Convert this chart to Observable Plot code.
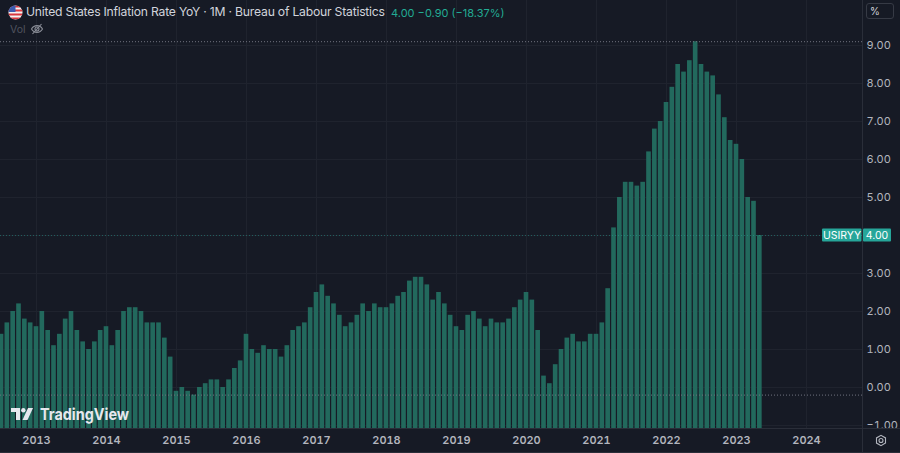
<!DOCTYPE html>
<html>
<head>
<meta charset="utf-8">
<script src="https://cdn.jsdelivr.net/npm/d3@7"></script>
<script src="https://cdn.jsdelivr.net/npm/@observablehq/plot@0.6"></script>
<style>
  html, body { margin: 0; padding: 0; background: #161a25; }
  #wrap { position: relative; width: 900px; height: 453px; overflow: hidden; font-family: Inter, "Noto Sans", sans-serif; }
  #hdr { position: absolute; left: 0; top: 0; width: 900px; height: 40px; pointer-events: none; }
  .title { position: absolute; left: 26px; top: 4px; font-size: 12.2px; letter-spacing: -0.22px; color: #d1d4dc; white-space: nowrap; }
  .vals { position: absolute; left: 391px; top: 6px; font-size: 11px; color: #22ab94; white-space: nowrap; }
  .vol { position: absolute; left: 10px; top: 23px; font-size: 10.5px; color: #50535e; }
  .pct { position: absolute; left: 866px; top: 3px; width: 28px; height: 16px; border: 1px solid #363a45; border-radius: 3px; font-size: 10px; color: #d1d4dc; box-sizing: border-box; padding-left: 3px; line-height: 15px; }
</style>
</head>
<body>
<div id="wrap">
  <div id="chart"></div>
  <div id="hdr">
    <svg style="position:absolute;left:8px;top:5px" width="15" height="15" viewBox="0 0 15 15">
      <defs><clipPath id="fc"><circle cx="7.5" cy="7.5" r="7"/></clipPath></defs>
      <g clip-path="url(#fc)">
        <rect x="0" y="0" width="15" height="15" fill="#f3f3f3"/>
        <rect x="0" y="0.5" width="15" height="2" fill="#d9363e"/>
        <rect x="0" y="4.5" width="15" height="2" fill="#d9363e"/>
        <rect x="0" y="8.5" width="15" height="2" fill="#d9363e"/>
        <rect x="0" y="12.5" width="15" height="2" fill="#d9363e"/>
        <rect x="0" y="0" width="7.5" height="7" fill="#3c5bb0"/>
      </g>
    </svg>
    <div class="title">United States Inflation Rate YoY · 1M · Bureau of Labour Statistics</div>
    <div class="vals">4.00 −0.90 (−18.37%)</div>
    <div class="vol">Vol</div>
    <svg style="position:absolute;left:30px;top:23px" width="14" height="12" viewBox="0 0 14 12">
      <path d="M1.5 6 C4 1.5 10 1.5 12.5 6 C10 10.5 4 10.5 1.5 6 Z" fill="none" stroke="#8a8d97" stroke-width="1.1"/>
      <circle cx="7" cy="6" r="2" fill="none" stroke="#8a8d97" stroke-width="1.1"/>
      <line x1="2.5" y1="11" x2="11.5" y2="1" stroke="#8a8d97" stroke-width="1.1"/>
    </svg>
    <div class="pct">%</div>
  </div>
</div>
<script>
// ---- data ----
const startYear = 2012;
const startMonth = 7; // July 2012
const values = [
  1.4, 1.7, 2.0, 2.2, 1.8, 1.7,                               // 2012 Jul-Dec
  1.6, 2.0, 1.5, 1.1, 1.4, 1.8, 2.0, 1.5, 1.2, 1.0, 1.2, 1.5,   // 2013
  1.6, 1.1, 1.5, 2.0, 2.1, 2.1, 2.0, 1.7, 1.7, 1.7, 1.3, 0.8,   // 2014
  -0.1, 0.0, -0.1, -0.2, 0.0, 0.1, 0.2, 0.2, 0.0, 0.2, 0.5, 0.7,// 2015
  1.4, 1.0, 0.9, 1.1, 1.0, 1.0, 0.8, 1.1, 1.5, 1.6, 1.7, 2.1,   // 2016
  2.5, 2.7, 2.4, 2.2, 1.9, 1.6, 1.7, 1.9, 2.2, 2.0, 2.2, 2.1,   // 2017
  2.1, 2.2, 2.4, 2.5, 2.8, 2.9, 2.9, 2.7, 2.3, 2.5, 2.2, 1.9,   // 2018
  1.6, 1.5, 1.9, 2.0, 1.8, 1.6, 1.8, 1.7, 1.7, 1.8, 2.1, 2.3,   // 2019
  2.5, 2.3, 1.5, 0.3, 0.1, 0.6, 1.0, 1.3, 1.4, 1.2, 1.2, 1.4,   // 2020
  1.4, 1.7, 2.6, 4.2, 5.0, 5.4, 5.4, 5.3, 5.4, 6.2, 6.8, 7.0,   // 2021
  7.5, 7.9, 8.5, 8.3, 8.6, 9.1, 8.5, 8.3, 8.2, 7.7, 7.1, 6.5,   // 2022
  6.4, 6.0, 5.0, 4.9, 4.0                                       // 2023 Jan-May
];
const yearTicks = [2013, 2014, 2015, 2016, 2017, 2018, 2019, 2020, 2021, 2022, 2023, 2024];
const priceTicks = [-1, 0, 1, 2, 3, 4, 5, 6, 7, 8, 9];
const highValue = 9.1;
const lowValue = -0.2;
const lastValue = 4.0;
const seriesLabel = "USIRYY";

// ---- table built from arrays: month index relative to Jan 2013 ----
const rows = values.map((v, i) => ({
  m: (startYear - 2013) * 12 + (startMonth - 1) + i,
  v
}));
const tickMonths = yearTicks.map(y => (y - 2013) * 12);
const axisPriceTicks = priceTicks.filter(t => t !== lastValue); // covered by the last-value label

const W = 900, H = 453, mR = 38, mB = 25;
const pxPerMonth = 70 / 12;
const x0 = -36 / pxPerMonth, x1 = (W - mR - 36) / pxPerMonth;
const yBottom = (387 - (H - mB)) / 38, yTop = 387 / 38;

const barColor = "#22695d";
const gridColor = "#1f232e";

const plot = Plot.plot({
  width: W, height: H,
  marginTop: 0, marginLeft: 0, marginRight: mR, marginBottom: mB,
  style: { background: "#161a25", color: "#b2b5be", fontFamily: "Inter, 'Noto Sans', sans-serif", fontSize: "11px", overflow: "visible" },
  x: { type: "linear", domain: [x0, x1] },
  y: { domain: [yBottom, yTop] },
  marks: [
    Plot.gridX(tickMonths, { stroke: gridColor, strokeOpacity: 1 }),
    Plot.gridY(priceTicks, { stroke: gridColor, strokeOpacity: 1 }),
    Plot.rect(rows, {
      x1: d => d.m - 0.5, x2: d => d.m + 0.5,
      y1: yBottom, y2: "v",
      fill: barColor, insetLeft: 0.6, insetRight: 0.6
    }),
    Plot.ruleY([highValue, lowValue], { stroke: "#70737e", strokeDasharray: "1,2", strokeWidth: 1 }),
    Plot.ruleY([lastValue], { stroke: "#26a69a", strokeOpacity: 0.45, strokeDasharray: "1,2", strokeWidth: 1 }),
    Plot.axisX(tickMonths, {
      anchor: "bottom", tickSize: 0, tickPadding: 8,
      tickFormat: (d, i) => String(yearTicks[i]), fontWeight: 600, fill: "#b2b5be", label: null
    }),
    Plot.axisY(axisPriceTicks, {
      anchor: "right", tickSize: 0, tickPadding: 4,
      tickFormat: d3.format(".2f"), fill: "#b2b5be", label: null, textAnchor: "start"
    })
  ]
});

document.getElementById("chart").appendChild(plot);

// ---- decorations positioned with the plot's own scales ----
const svg = d3.select(plot);
const sx = plot.scale("x"), sy = plot.scale("y");
const xr = sx.apply(x1);           // right edge of pane
const yb = sy.apply(yBottom);      // bottom edge of pane
const yl = sy.apply(lastValue);

// borders
svg.append("line").attr("x1", xr + 0.5).attr("x2", xr + 0.5).attr("y1", 0).attr("y2", H)
  .attr("stroke", "#2a2e39");
svg.append("line").attr("x1", 0).attr("x2", W).attr("y1", yb + 0.5).attr("y2", yb + 0.5)
  .attr("stroke", "#2a2e39");
svg.append("line").attr("x1", 0).attr("x2", W).attr("y1", H - 0.5).attr("y2", H - 0.5)
  .attr("stroke", "#2a2e39");

// last value labels
const lab = svg.append("g").attr("font-size", 10.5).attr("fill", "#ffffff");
lab.append("rect").attr("x", xr - 40).attr("y", yl - 6.5).attr("width", 39.5).attr("height", 13)
  .attr("fill", "#26a69a").attr("rx", 1);
lab.append("text").attr("x", xr - 20).attr("y", yl).attr("dy", "0.36em").attr("text-anchor", "middle")
  .attr("fill", "#ffffff").text(seriesLabel);
lab.append("rect").attr("x", xr + 1).attr("y", yl - 6.5).attr("width", 28).attr("height", 13)
  .attr("fill", "#26a69a").attr("rx", 1);
lab.append("text").attr("x", xr + 15).attr("y", yl).attr("dy", "0.36em").attr("text-anchor", "middle")
  .attr("fill", "#ffffff").text(d3.format(".2f")(lastValue));

// gear icon
const gear = svg.append("g").attr("transform", `translate(${xr + 19},${H - 12.5})`)
  .attr("fill", "none").attr("stroke", "#b2b5be").attr("stroke-width", 1.1);
gear.append("path").attr("d", d3.range(6).map(k => {
  const a = Math.PI / 3 * k + Math.PI / 6;
  return (k ? "L" : "M") + (5.2 * Math.cos(a)).toFixed(2) + "," + (5.2 * Math.sin(a)).toFixed(2);
}).join("") + "Z");
gear.append("circle").attr("r", 2);

// TradingView watermark
const wm = svg.append("g").attr("transform", `translate(11,${yb - 20})`);
wm.append("path").attr("d", "M0,0 H9 V12 H5 V4 H0 Z").attr("fill", "#e6e8ee");
wm.append("circle").attr("cx", 12.3).attr("cy", 2.2).attr("r", 2.2).attr("fill", "#e6e8ee");
wm.append("path").attr("d", "M17,0 H22 L16.5,12 H11.5 Z").attr("fill", "#e6e8ee");
wm.append("text").attr("x", 29).attr("y", 12).attr("font-size", 16).attr("font-weight", 700)
  .attr("text-anchor", "start").attr("textLength", 89).attr("lengthAdjust", "spacingAndGlyphs")
  .attr("fill", "#e6e8ee").text("TradingView");
</script>
</body>
</html>
